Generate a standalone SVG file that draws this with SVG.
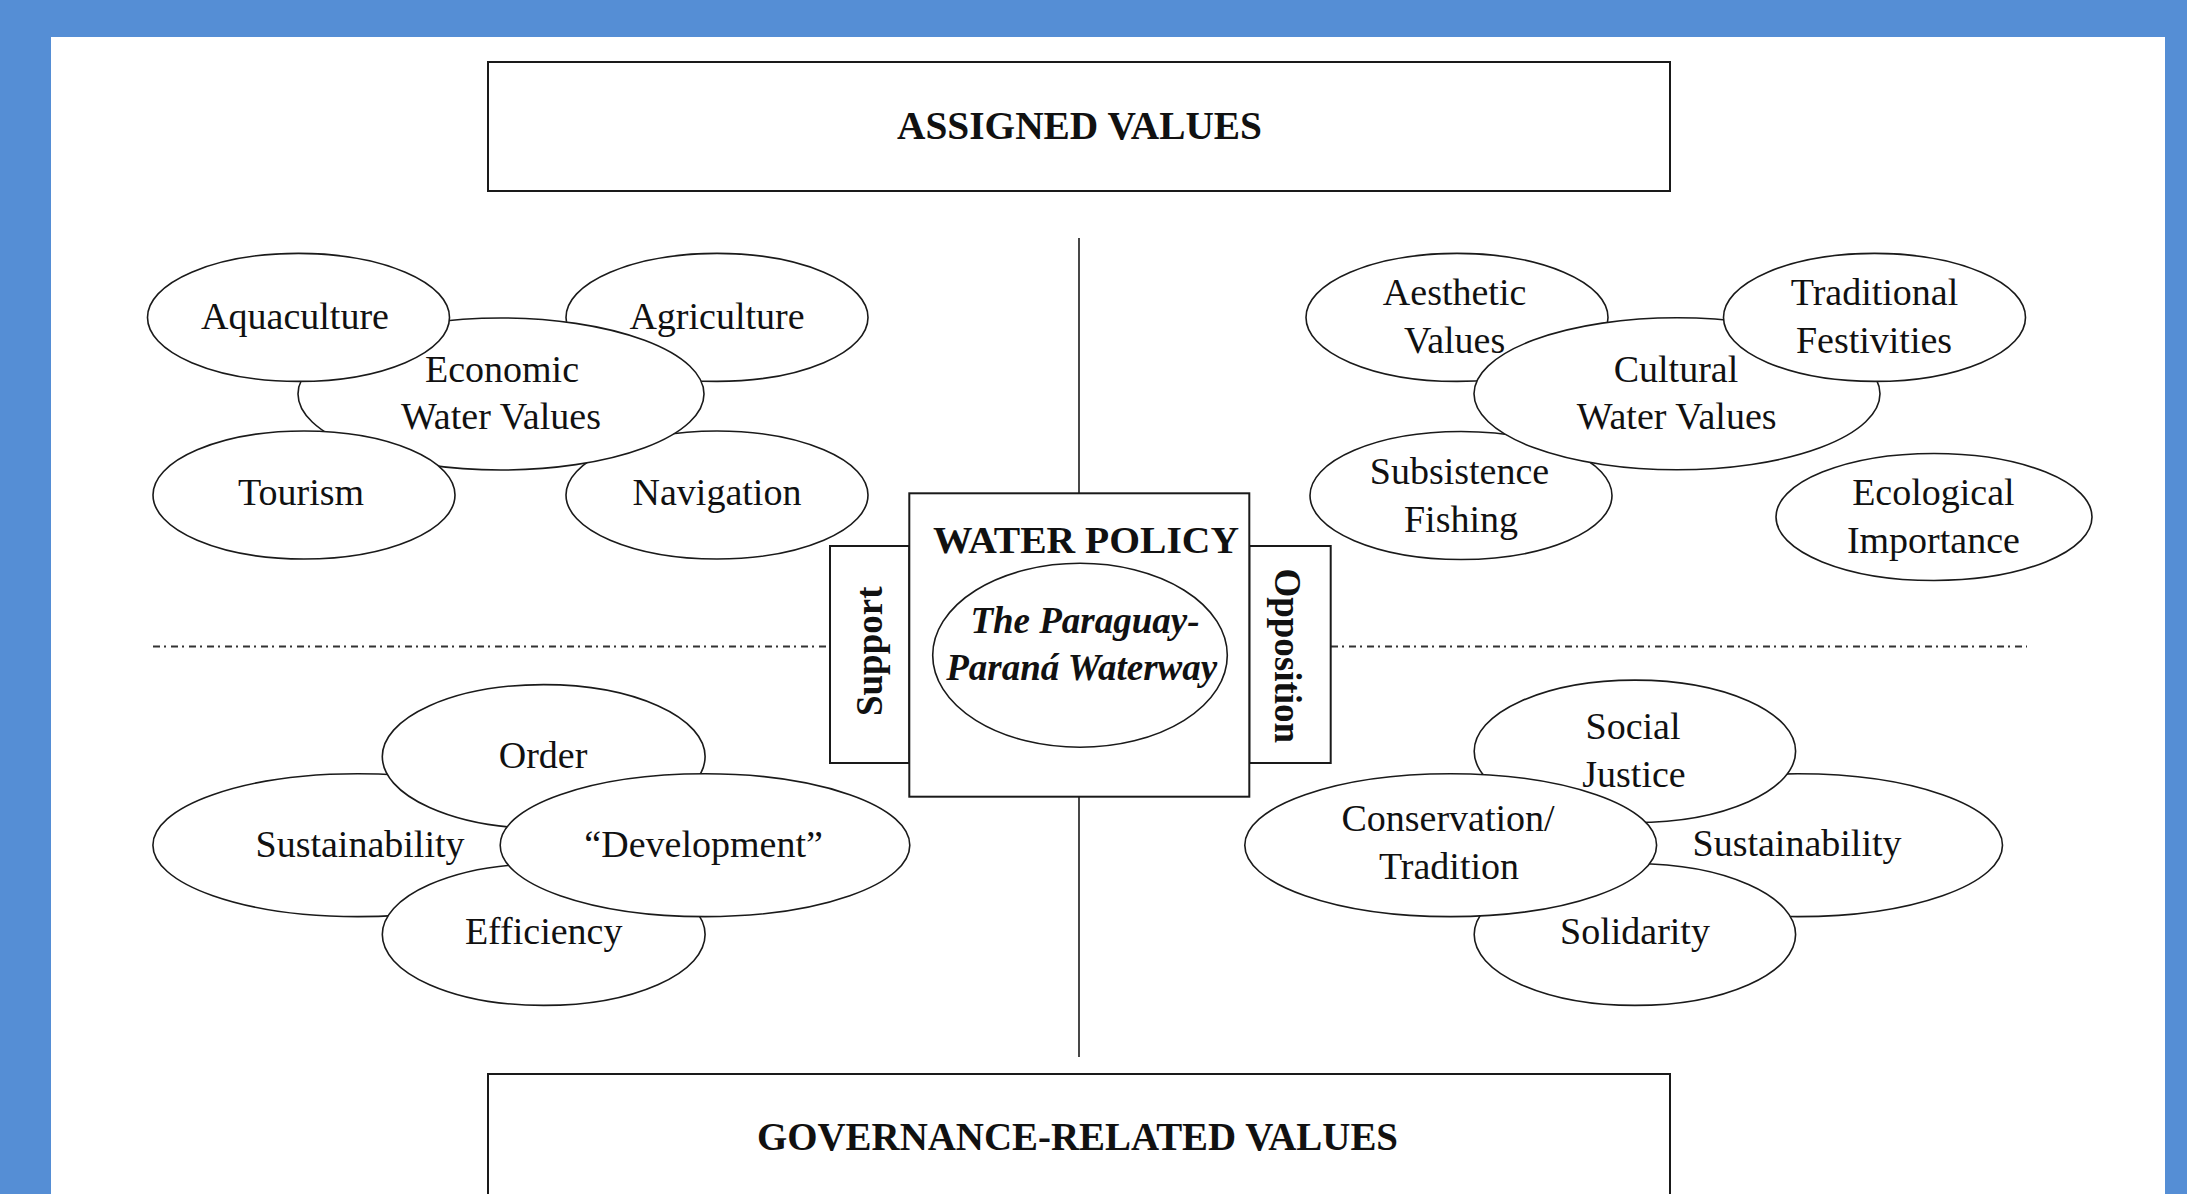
<svg xmlns="http://www.w3.org/2000/svg" width="2187" height="1194" viewBox="0 0 2187 1194">
<style>
.bg{fill:#558ed5}
.paper{fill:#ffffff}
.box{fill:#ffffff;stroke:#1a1a1a;stroke-width:2}
.el{fill:#ffffff;stroke:#1a1a1a;stroke-width:1.6}
.t{font-family:"Liberation Serif","Times New Roman",serif;font-size:38px;fill:#111;text-anchor:middle}
.hb{font-family:"Liberation Serif","Times New Roman",serif;font-weight:bold;fill:#111;text-anchor:middle}
.bi{font-family:"Liberation Serif","Times New Roman",serif;font-weight:bold;font-style:italic;font-size:37px;fill:#111;text-anchor:middle}
.ln{stroke:#1a1a1a;stroke-width:1.6;fill:none}
.dd{stroke:#333;stroke-width:1.8;fill:none;stroke-dasharray:7 4 2 5}
</style>
<rect class="bg" x="0" y="0" width="2187" height="1194"/>
<rect class="paper" x="51" y="37" width="2114" height="1170"/>

<g id="connectors">
<line class="ln" x1="1079" y1="238" x2="1079" y2="493"/>
<line class="ln" x1="1079" y1="797" x2="1079" y2="1057"/>
<line class="dd" x1="153" y1="646.5" x2="830" y2="646.5"/>
<line class="dd" x1="1331" y1="646.5" x2="2027" y2="646.5"/>
</g>

<g id="assigned-values">
<rect class="box" x="488" y="62" width="1182" height="129"/>
<text class="hb" x="1079.5" y="139" font-size="39" textLength="365" lengthAdjust="spacingAndGlyphs">ASSIGNED VALUES</text>
</g>

<g id="governance-values">
<rect class="box" x="488" y="1074" width="1182" height="140"/>
<text class="hb" x="1077.5" y="1150" font-size="39" textLength="641" lengthAdjust="spacingAndGlyphs">GOVERNANCE-RELATED VALUES</text>
</g>

<!-- Economic cluster -->
<g id="agriculture">
<ellipse class="el" cx="717" cy="317.4" rx="151" ry="64"/>
<text class="t" x="717" y="329">Agriculture</text>
</g>
<g id="navigation">
<ellipse class="el" cx="717" cy="495" rx="151" ry="64"/>
<text class="t" x="717" y="505">Navigation</text>
</g>
<g id="economic">
<ellipse class="el" cx="501" cy="394" rx="203" ry="76"/>
<text class="t" x="502" y="381.5">Economic</text>
<text class="t" x="501" y="428.6">Water Values</text>
</g>
<g id="aquaculture">
<ellipse class="el" cx="298.5" cy="317.4" rx="151" ry="64"/>
<text class="t" x="295" y="329">Aquaculture</text>
</g>
<g id="tourism">
<ellipse class="el" cx="304" cy="495" rx="151" ry="64"/>
<text class="t" x="301" y="505">Tourism</text>
</g>

<!-- Cultural cluster -->
<g id="aesthetic">
<ellipse class="el" cx="1457" cy="317.4" rx="151" ry="64"/>
<text class="t" x="1454.6" y="305">Aesthetic</text>
<text class="t" x="1454.6" y="352.8">Values</text>
</g>
<g id="subsistence">
<ellipse class="el" cx="1461" cy="495.5" rx="151" ry="64"/>
<text class="t" x="1459.5" y="484">Subsistence</text>
<text class="t" x="1461" y="532">Fishing</text>
</g>
<g id="cultural">
<ellipse class="el" cx="1677" cy="393.8" rx="203" ry="76"/>
<text class="t" x="1676" y="381.5">Cultural</text>
<text class="t" x="1676.6" y="429.3">Water Values</text>
</g>
<g id="traditional">
<ellipse class="el" cx="1874.5" cy="317.4" rx="151" ry="64"/>
<text class="t" x="1874.5" y="305">Traditional</text>
<text class="t" x="1874" y="352.8">Festivities</text>
</g>
<g id="ecological">
<ellipse class="el" cx="1934" cy="517" rx="158" ry="63.5"/>
<text class="t" x="1933.4" y="505">Ecological</text>
<text class="t" x="1933.4" y="553">Importance</text>
</g>

<!-- Support governance cluster -->
<g id="sustainability-left">
<ellipse class="el" cx="357.7" cy="845.2" rx="204.8" ry="71.4"/>
<text class="t" x="360" y="857">Sustainability</text>
</g>
<g id="order">
<ellipse class="el" cx="543.7" cy="756.6" rx="161.4" ry="72"/>
<text class="t" x="543" y="768">Order</text>
</g>
<g id="efficiency">
<ellipse class="el" cx="543.7" cy="934.6" rx="161.4" ry="70.8"/>
<text class="t" x="543.7" y="944">Efficiency</text>
</g>
<g id="development">
<ellipse class="el" cx="705" cy="845.2" rx="204.8" ry="71.4"/>
<text class="t" x="703.6" y="857">“Development”</text>
</g>

<!-- Opposition governance cluster -->
<g id="sustainability-right">
<ellipse class="el" cx="1797.7" cy="845.2" rx="204.8" ry="71.4"/>
<text class="t" x="1797" y="856">Sustainability</text>
</g>
<g id="social-justice">
<ellipse class="el" cx="1634.9" cy="751.3" rx="160.7" ry="71.2"/>
<text class="t" x="1633" y="739.4">Social</text>
<text class="t" x="1634" y="787.2">Justice</text>
</g>
<g id="solidarity">
<ellipse class="el" cx="1634.9" cy="934.6" rx="160.7" ry="70.8"/>
<text class="t" x="1635" y="944">Solidarity</text>
</g>
<g id="conservation">
<ellipse class="el" cx="1450.7" cy="845.2" rx="205.9" ry="71.4"/>
<text class="t" x="1448" y="831.2">Conservation/</text>
<text class="t" x="1449" y="879">Tradition</text>
</g>

<!-- Centre -->
<g id="support">
<rect class="box" x="830" y="546" width="79.3" height="217"/>
<text class="hb" font-size="37" transform="translate(881.7,651.3) rotate(-90)">Support</text>
</g>
<g id="opposition">
<rect class="box" x="1249.3" y="546" width="81.4" height="217"/>
<text class="hb" font-size="37" transform="translate(1275,655.8) rotate(90)">Opposition</text>
</g>
<g id="water-policy">
<rect class="box" x="909.3" y="493.3" width="340" height="303.4"/>
<text class="hb" x="1086" y="553" font-size="37" textLength="306" lengthAdjust="spacingAndGlyphs">WATER POLICY</text>
<ellipse class="el" cx="1080" cy="655.3" rx="147.3" ry="92"/>
<text class="bi" x="1085" y="632.7">The Paraguay-</text>
<text class="bi" x="1081.7" y="680">Paraná Waterway</text>
</g>
</svg>
